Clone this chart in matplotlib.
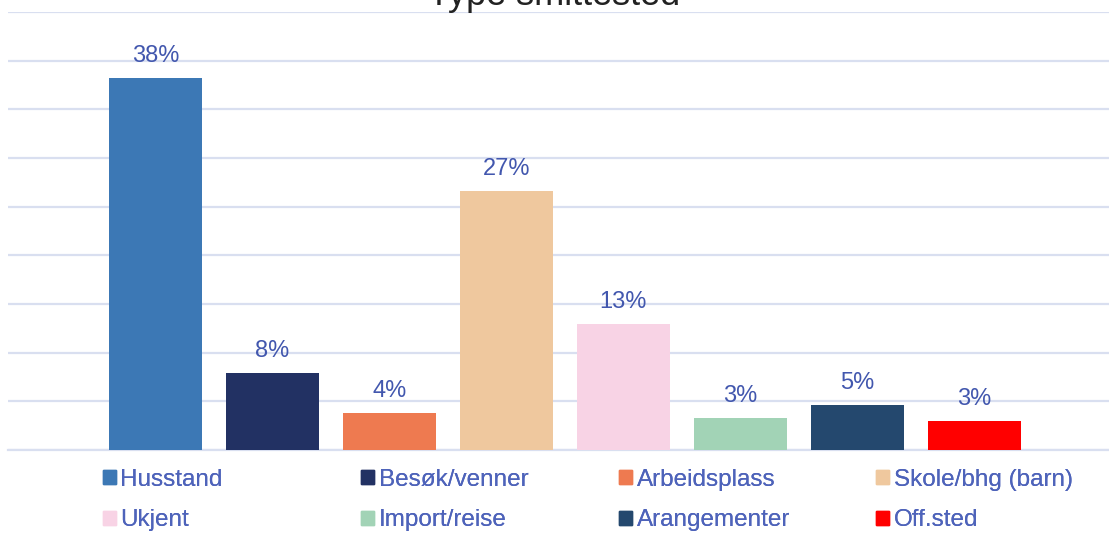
import matplotlib.pyplot as plt
from matplotlib.patches import Patch

plt.rcParams['font.family'] = ['Liberation Sans', 'DejaVu Sans']

categories = ['Husstand', 'Besøk/venner', 'Arbeidsplass', 'Skole/bhg (barn)',
              'Ukjent', 'Import/reise', 'Arangementer', 'Off.sted']
values = [38.2, 7.9, 3.8, 26.6, 12.9, 3.3, 4.6, 3.0]
colors = ['#3C78B5', '#223163', '#EE7A50', '#EFC89E',
          '#F8D3E5', '#A2D3B6', '#24486E', '#FF0000']
yticks = [0, 5, 10, 15, 20, 25, 30, 35, 40, 45]

W, H = 1109, 533
fig = plt.figure(figsize=(W / 100, H / 100), dpi=100)
ax = fig.add_axes([8 / W, (H - 450) / H, (W - 8) / W, (450 - 12) / H])

x = list(range(len(categories)))
bars = ax.bar(x, values, width=0.795, color=colors, zorder=3)
ax.set_xlim(-1.26, 8.15)
ax.set_ylim(0, 45)
ax.set_yticks(yticks)
ax.grid(axis='y', color='#D9DFF0', lw=1.6, zorder=0)
ax.axhline(0, color='#D9DFF0', lw=1.6, zorder=2, clip_on=False)
ax.tick_params(left=False, bottom=False, labelleft=False, labelbottom=False)
for s in ax.spines.values():
    s.set_visible(False)

for b, v in zip(bars, values):
    ax.annotate(f'{v:.0f}%', (b.get_x() + b.get_width() / 2, v),
                xytext=(0, 11.5), textcoords='offset points',
                ha='center', va='baseline', fontsize=17, color='#4257AE')

fig.text(0.5, 1 - 5 / H, 'Type smittested', ha='center', va='baseline',
         fontsize=26, color='#222222')

# legend: 4 columns, 2 rows
col_x = [103, 361, 619, 876]
for c in range(4):
    idx = [c, c + 4]
    handles = [Patch(color=colors[i]) for i in idx]
    leg = fig.legend(handles, [categories[i] for i in idx],
                     loc='upper left', bbox_to_anchor=(col_x[c] / W, 1 - 469 / H),
                     frameon=False, fontsize=17.5, handlelength=0.52,
                     handleheight=0.52, handletextpad=0.2, labelspacing=0.76,
                     borderpad=0, borderaxespad=0, labelcolor='#4E63BA')
    fig.add_artist(leg)

fig.savefig('out.png', dpi=100)
